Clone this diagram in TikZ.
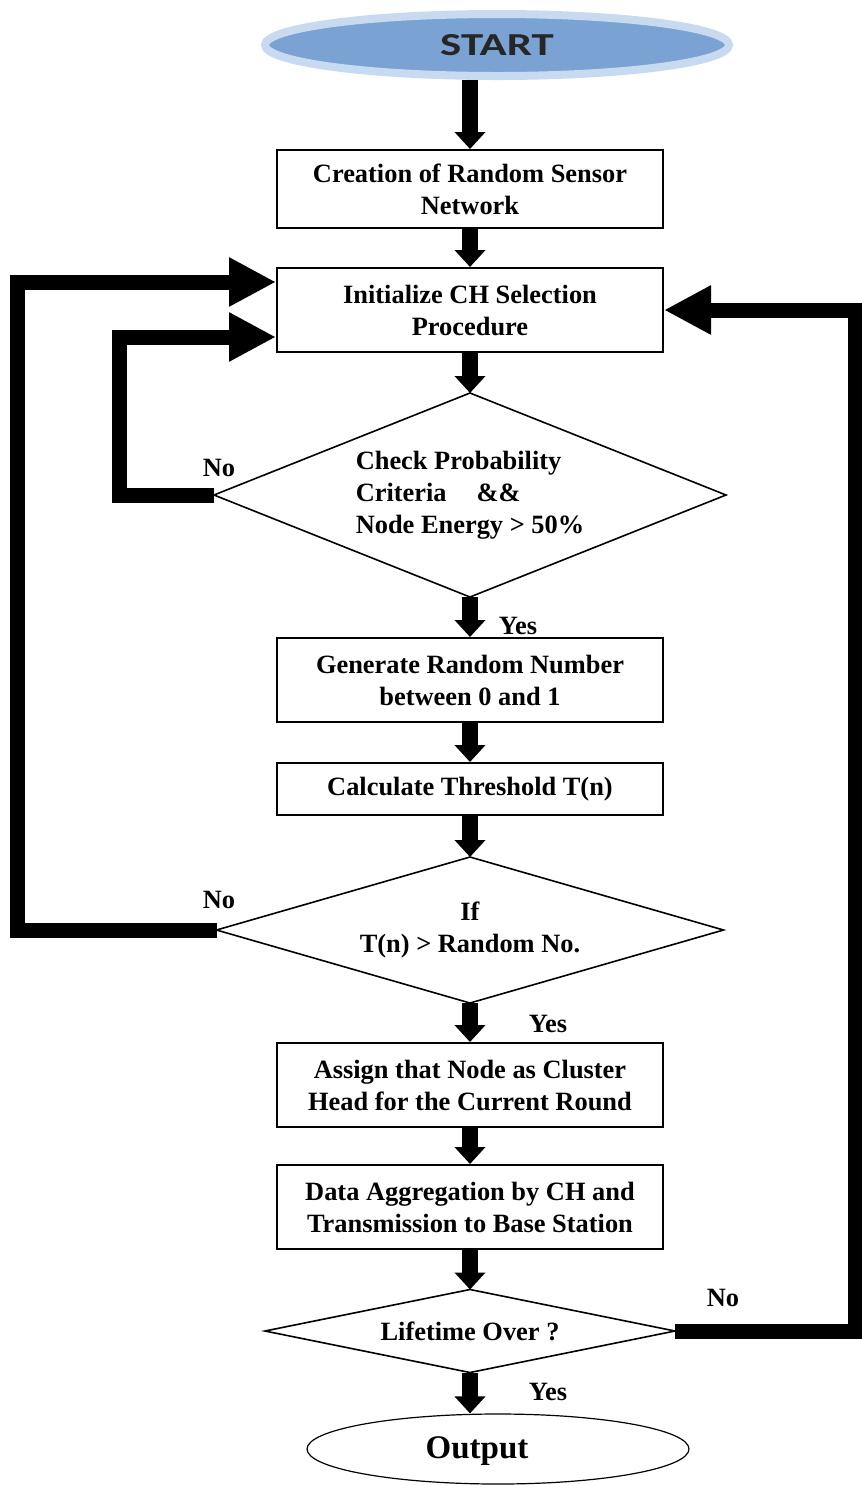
\documentclass[tikz,border=0pt]{standalone}
\usepackage{fontspec}
\setmainfont{Liberation Serif}
\newfontfamily\startfont[FakeStretch=1.4]{Carlito}
\usetikzlibrary{shapes.geometric}
\usetikzlibrary{arrows.meta}
\usetikzlibrary{calc}

\definecolor{startfill}{RGB}{122,162,210}
\definecolor{startglow}{RGB}{200,218,240}
\definecolor{starttext}{RGB}{38,38,38}

\tikzset{
  stepbox/.style={draw, line width=1pt, rectangle, minimum width=193pt, align=center, inner sep=0pt},
  decide/.style={draw, line width=0.8pt, diamond, inner sep=0pt, outer sep=0pt},
  flow/.style={line width=8pt, -{Triangle[width=15pt,length=8.5pt]}},
  loopback/.style={line width=7.5pt, -{Triangle[width=23pt,length=23.5pt]}},
  answer/.style={inner sep=0pt},
}

\begin{document}
\begin{tikzpicture}[x=0.5pt, y=-0.5pt, every node/.style={font=\bfseries\fontsize{13.2}{16}\selectfont}]
\useasboundingbox (0,0) rectangle (862,1485);

% main column
\node[ellipse, fill=startfill, draw=startglow, line width=4pt, minimum width=232pt, minimum height=31pt, text=starttext, font=\startfont\bfseries\fontsize{16}{18}\selectfont] (start) at (497,45) {START};
\node[stepbox, minimum height=39pt] (create) at (470,189) {Creation of Random Sensor\\Network};
\node[stepbox, minimum height=42pt] (init) at (470,310) {Initialize CH Selection\\Procedure};
\node[decide, minimum width=256pt, minimum height=102pt, shape aspect=2.5, align=left] (chk) at (470,495) {Check Probability\\Criteria\hspace{15pt}\&\&\\Node Energy > 50\%};
\node[stepbox, minimum height=42pt] (gen) at (470,680) {Generate Random Number\\between 0 and 1};
\node[stepbox, minimum height=26pt] (thr) at (470,789) {Calculate Threshold T(n)};
\node[decide, minimum width=253.5pt, minimum height=73pt, shape aspect=3.5, align=center] (ifd) at (470,930) {If\\T(n) > Random No.};
\node[stepbox, minimum height=42pt] (assign) at (470,1085) {Assign that Node as Cluster\\Head for the Current Round};
\node[stepbox, minimum height=42pt] (agg) at (470,1207) {Data Aggregation by CH and\\Transmission to Base Station};
\node[decide, minimum width=205pt, minimum height=41.5pt, shape aspect=5] (life) at (470,1331) {Lifetime Over ?};
\node[ellipse, draw, line width=0.6pt, minimum width=191pt, minimum height=35pt] (out) at (498,1449) {};
\node[font=\bfseries\fontsize{16.5}{18}\selectfont] (outtext) at (477,1451) {Output};

% downward arrows
\draw[flow] (start.south -| create.north) -- (create.north);
\draw[flow] (create) -- (init);
\draw[flow] (init) -- (chk);
\draw[flow] (chk) -- (gen);
\draw[flow] (gen) -- (thr);
\draw[flow] (thr) -- (ifd);
\draw[flow] (ifd) -- (assign);
\draw[flow] (assign) -- (agg);
\draw[flow] (agg) -- (life);
\draw[flow] (life) -- (life.south |- out.north);

% feedback loops
\coordinate (outer) at (17,282);
\coordinate (inner) at (119,337);
\coordinate (right) at (855,310);
\draw[loopback] (ifd.west) -| (outer) -- (init.west |- outer);
\draw[loopback] (chk.west) -| (inner) -- (init.west |- inner);
\draw[loopback] (life.east) -| (right) -- (init.east |- right);

% yes / no
\node[answer] (no1) at (219,468) {No};
\node[answer] (yes1) at (518,626) {Yes};
\node[answer] (no2) at (219,900) {No};
\node[answer] (yes2) at (548,1024) {Yes};
\node[answer] (no3) at (723,1298) {No};
\node[answer] (yes3) at (548,1392) {Yes};
\end{tikzpicture}
\end{document}
